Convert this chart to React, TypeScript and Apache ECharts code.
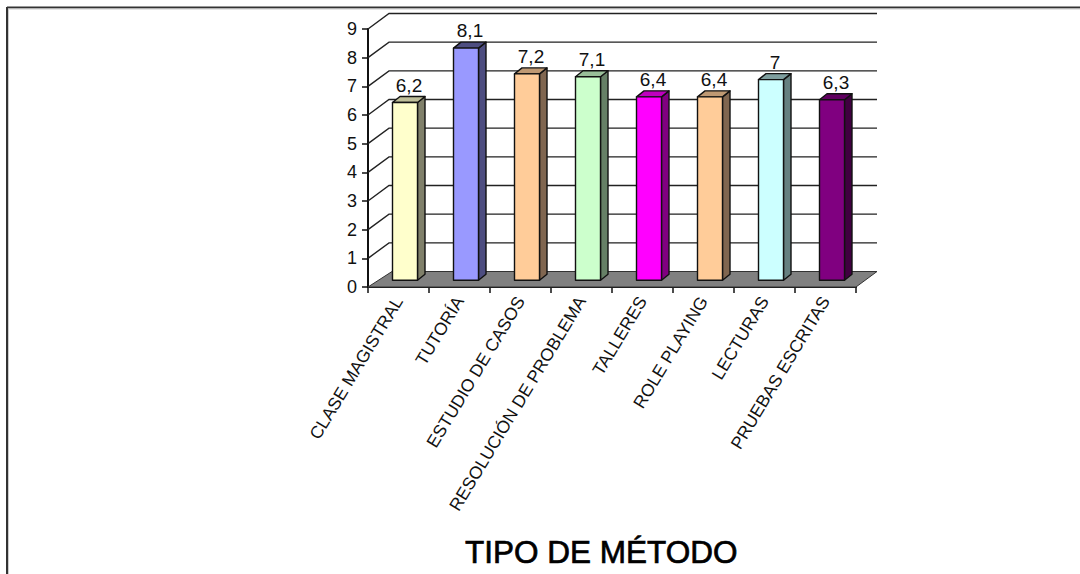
import React, { useEffect, useRef } from "react";
import * as echarts from "echarts";

const methods = [
  "CLASE MAGISTRAL",
  "TUTORÍA",
  "ESTUDIO DE CASOS",
  "RESOLUCIÓN DE PROBLEMA",
  "TALLERES",
  "ROLE PLAYING",
  "LECTURAS",
  "PRUEBAS ESCRITAS",
];
const scores = [6.2, 8.1, 7.2, 7.1, 6.4, 6.4, 7, 6.3];
const faceColors = ["#FFFFCC", "#9999FF", "#FFCC99", "#CCFFCC", "#FF00FF", "#FFCC99", "#CCFFFF", "#800080"];
const topColors = ["#BFBF99", "#4D4D80", "#BF9973", "#99BF99", "#BF00BF", "#BF9973", "#7F9F9F", "#600060"];
const sideColors = ["#80806A", "#4D4D80", "#806650", "#668066", "#800080", "#806650", "#668080", "#400040"];
const wallTicks = [1, 2, 3, 4, 5, 6, 7, 8, 9];

const WALL_DX = 21;
const WALL_DY = -15.5;
const INK = "#111";

function commaDecimal(v: number) {
  return String(v).replace(".", ",");
}

export default function App() {
  const ref = useRef<HTMLDivElement>(null);

  useEffect(() => {
    const chart = echarts.init(ref.current!, undefined, { renderer: "svg" });

    const option = {
      animation: false,
      backgroundColor: "#fff",
      title: {
        text: "TIPO DE MÉTODO",
        left: 465,
        top: 536,
        padding: 0,
        textStyle: {
          fontFamily: "Liberation Sans",
          fontSize: 31.5,
          fontWeight: "normal",
          color: "#000",
          textBorderColor: "#000",
          textBorderWidth: 0.7,
        },
      },
      grid: { left: 368, right: 224, top: 29, bottom: 287 },
      xAxis: {
        type: "category",
        data: methods,
        boundaryGap: true,
        axisLine: { lineStyle: { color: INK, width: 2 } },
        axisTick: { show: true, length: 6, alignWithLabel: false, lineStyle: { color: INK, width: 1.5 } },
        axisLabel: {
          interval: 0,
          rotate: 58.8,
          margin: 11,
          fontFamily: "Liberation Sans",
          fontSize: 17.5,
          color: "#111",
        },
      },
      yAxis: {
        type: "value",
        min: 0,
        max: 9,
        interval: 1,
        splitLine: { show: false },
        axisLine: { show: true, lineStyle: { color: INK, width: 2 } },
        axisTick: { show: true, length: 6, lineStyle: { color: INK, width: 1.5 } },
        axisLabel: { margin: 11, fontFamily: "Liberation Sans", fontSize: 18, color: "#111" },
      },
      graphic: [
        { type: "line", shape: { x1: 7, y1: 7.5, x2: 1080, y2: 7.5 }, style: { stroke: "#333", lineWidth: 2 } },
        { type: "line", shape: { x1: 7, y1: 7, x2: 7, y2: 574 }, style: { stroke: "#333", lineWidth: 2 } },
        { type: "line", shape: { x1: 8, y1: 9, x2: 1080, y2: 9 }, style: { stroke: "#ccc", lineWidth: 1 } },
        { type: "line", shape: { x1: 8.5, y1: 9, x2: 8.5, y2: 574 }, style: { stroke: "#ccc", lineWidth: 1 } },
      ],
      series: [
        {
          // Receding floor of the 3D box, spanning the whole category band
          type: "custom",
          z: 1,
          silent: true,
          data: [[0, 0]],
          encode: { x: 0, y: 1 },
          renderItem: (_: any, api: any) => {
            const band = api.size([1, 0])[0];
            const [cx0, y0] = api.coord([0, 0]);
            const [cx1] = api.coord([methods.length - 1, 0]);
            const xl = cx0 - band / 2;
            const xr = cx1 + band / 2;
            return {
              type: "polygon",
              shape: {
                points: [
                  [xl, y0],
                  [xr, y0],
                  [xr + WALL_DX, y0 + WALL_DY],
                  [xl + WALL_DX + 3, y0 + WALL_DY],
                ],
              },
              style: { fill: "#808080", stroke: "#333", lineWidth: 1 },
            };
          },
        },
        {
          // Gridlines: a diagonal along the side wall, then straight across the back wall
          type: "custom",
          z: 2,
          silent: true,
          data: wallTicks.map((v) => [0, v]),
          encode: { x: 0, y: 1 },
          renderItem: (_: any, api: any) => {
            const band = api.size([1, 0])[0];
            const [cx0, y] = api.coord([0, api.value(1)]);
            const [cx1] = api.coord([methods.length - 1, api.value(1)]);
            const xl = cx0 - band / 2;
            const xr = cx1 + band / 2;
            return {
              type: "polyline",
              shape: {
                points: [
                  [xl, y],
                  [xl + WALL_DX, y + WALL_DY],
                  [xr + WALL_DX, y + WALL_DY],
                ],
              },
              style: { fill: "none", stroke: "#222", lineWidth: 1.4 },
            };
          },
        },
        {
          // Extruded bars: front face, side face, top face and the value above
          type: "custom",
          z: 3,
          silent: true,
          data: scores.map((v, i) => [i, v]),
          encode: { x: 0, y: 1 },
          renderItem: (params: any, api: any) => {
            const i = params.dataIndex;
            const v = api.value(1);
            const [cx, yTop] = api.coord([i, v]);
            const [, yBase] = api.coord([i, 0]);
            const shiftX = 6.5;
            const shiftY = -6.7;
            const half = 12.5;
            const dX = 7.5;
            const dY = -6;
            const l = cx + shiftX - half;
            const r = cx + shiftX + half;
            const t = yTop + shiftY;
            const b = yBase + shiftY;
            const border = { stroke: "#111", lineWidth: 1.4, lineJoin: "round" };
            return {
              type: "group",
              children: [
                {
                  type: "polygon",
                  shape: { points: [[r, t], [r + dX, t + dY], [r + dX, b + dY], [r, b]] },
                  style: { fill: sideColors[i], ...border },
                },
                {
                  type: "polygon",
                  shape: { points: [[l, t], [l + dX, t + dY], [r + dX, t + dY], [r, t]] },
                  style: { fill: topColors[i], ...border },
                },
                {
                  type: "rect",
                  shape: { x: l, y: t, width: r - l, height: b - t },
                  style: { fill: faceColors[i], ...border },
                },
                {
                  type: "text",
                  x: cx + shiftX + 4,
                  y: t + dY - 2,
                  style: {
                    text: commaDecimal(v),
                    fontFamily: "Liberation Sans",
                    fontSize: 19,
                    fill: "#111",
                    align: "center",
                    verticalAlign: "bottom",
                  },
                },
              ],
            };
          },
        },
      ],
    };

    chart.setOption(option as any);
    return () => chart.dispose();
  }, []);

  return (
    <div
      ref={ref}
      style={{ position: "fixed", left: 0, top: 0, width: 1080, height: 574, overflow: "hidden" }}
    />
  );
}
